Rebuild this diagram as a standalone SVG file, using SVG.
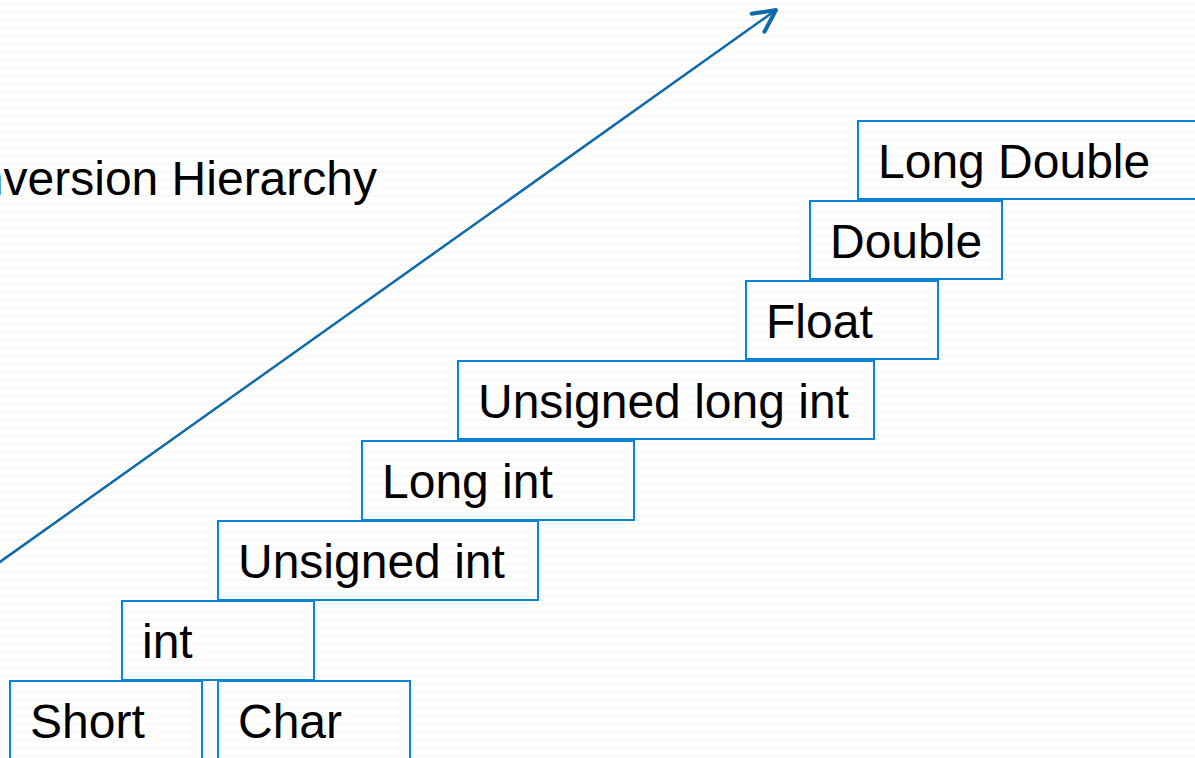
<svg xmlns="http://www.w3.org/2000/svg" width="1195" height="758" viewBox="0 0 1195 758">
  <style>
    .box rect { fill: none; stroke: #0a84d6; stroke-width: 2; }
    .box text { font-family: "Liberation Sans", Arial, sans-serif; font-size: 48px; fill: #000; }
    .title { font-family: "Liberation Sans", Arial, sans-serif; font-size: 48px; fill: #000; }
    .arrow { fill: none; stroke: #1069ab; stroke-width: 2.5; }
  </style>
  <defs>
    <pattern id="zigzag" width="8" height="8" patternUnits="userSpaceOnUse">
      <polyline points="0,5 2,3 4,5 6,3 8,5" fill="none" stroke="#f4f4f4" stroke-width="1"/>
    </pattern>
    <marker id="chevron" markerUnits="userSpaceOnUse" markerWidth="30" markerHeight="30" viewBox="-26 -15 30 30" refX="0" refY="0" orient="auto">
      <path d="M-22,-11 L0,0 L-22,11" fill="none" stroke="#1069ab" stroke-width="4" stroke-linecap="round" stroke-linejoin="round"/>
    </marker>
  </defs>

  <!-- textured backdrop -->
  <rect x="0" y="0" width="1195" height="758" fill="#ffffff"/>
  <rect x="0" y="0" width="1195" height="758" fill="url(#zigzag)"/>

  <text class="title" x="377" y="195" text-anchor="end">Conversion Hierarchy</text>

  <g id="connectors">
    <line class="arrow" x1="-10" y1="569" x2="776" y2="10" marker-end="url(#chevron)"/>
  </g>

  <g id="long-double" class="box">
    <rect x="858" y="121" width="350" height="78"/>
    <text x="878" y="178">Long Double</text>
  </g>
  <g id="double" class="box">
    <rect x="810" y="201" width="192" height="78"/>
    <text x="830" y="258">Double</text>
  </g>
  <g id="float" class="box">
    <rect x="746" y="281" width="192" height="78"/>
    <text x="766" y="338">Float</text>
  </g>
  <g id="unsigned-long-int" class="box">
    <rect x="458" y="361" width="416" height="78"/>
    <text x="478" y="418">Unsigned long int</text>
  </g>
  <g id="long-int" class="box">
    <rect x="362" y="441" width="272" height="79"/>
    <text x="382" y="498">Long int</text>
  </g>
  <g id="unsigned-int" class="box">
    <rect x="218" y="521" width="320" height="79"/>
    <text x="238" y="578">Unsigned int</text>
  </g>
  <g id="int" class="box">
    <rect x="122" y="601" width="192" height="79"/>
    <text x="142" y="658">int</text>
  </g>
  <g id="short" class="box">
    <rect x="10" y="681" width="192" height="90"/>
    <text x="30" y="738">Short</text>
  </g>
  <g id="char" class="box">
    <rect x="218" y="681" width="192" height="90"/>
    <text x="238" y="738">Char</text>
  </g>
</svg>
